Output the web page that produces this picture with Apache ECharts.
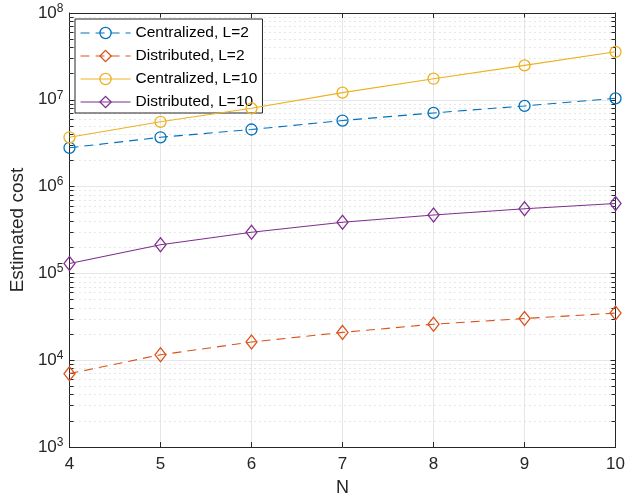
<!DOCTYPE html>
<html>
<head>
<meta charset="utf-8">
<script src="https://cdn.jsdelivr.net/npm/echarts@6/dist/echarts.min.js"></script>
<style>
    html, body { margin: 0; padding: 0; background: #fff; }
    #cost { width: 628px; height: 502px; }
</style>
</head>
<body>
<div id="cost"></div>
<script>
// N values on the x axis
let nValues = [4, 5, 6, 7, 8, 9, 10];

// estimated cost
let centralL2 = [2.8e6, 3.7e6, 4.55e6, 5.77e6, 7.06e6, 8.5e6, 1.04e7];
let distribL2 = [7.0e3, 1.155e4, 1.62e4, 2.09e4, 2.6e4, 3.02e4, 3.49e4];
let centralL10 = [3.7e6, 5.58e6, 7.98e6, 1.21e7, 1.75e7, 2.49e7, 3.57e7];
let distribL10 = [1.3e5, 2.14e5, 2.98e5, 3.88e5, 4.71e5, 5.56e5, 6.38e5];

let seriesNames = ['Centralized, L=2', 'Distributed, L=2', 'Centralized, L=10', 'Distributed, L=10'];

(function () {
    let chart = echarts.init(document.getElementById('cost'));

    const axisColor = '#262626';
    const font = '"Liberation Sans", Arial, sans-serif';

    function pairs(ys) {
        return nValues.map(function (n, i) {
            return [n, ys[i]];
        });
    }

    // minor log grid: 2..9 x 10^e
    let minorVals = [];
    for (let e = 3; e < 8; e++) {
        for (let k = 2; k <= 9; k++) {
            minorVals.push(k * Math.pow(10, e));
        }
    }
    let minorGrid = minorVals.map(function (v) {
        return { yAxis: v };
    });
    let minorTicks = [];
    minorVals.forEach(function (v) {
        minorTicks.push([{ coord: [4, v] }, { coord: [4.045, v] }]);
        minorTicks.push([{ coord: [9.955, v] }, { coord: [10, v] }]);
    });

    function lineSeries(name, data, color, marker, dashed) {
        return {
            name: name,
            type: 'line',
            data: pairs(data),
            color: color,
            symbol: marker,
            symbolSize: marker === 'diamond' ? [11, 14] : 11,
            z: 5,
            lineStyle: {
                color: color,
                width: 1.1,
                type: dashed ? [9, 6] : 'solid'
            },
            itemStyle: {
                color: 'transparent',
                borderColor: color,
                borderWidth: 1.3
            },
            animation: false
        };
    }

    let option = {
        backgroundColor: '#fff',
        textStyle: { fontFamily: font },
        grid: {
            left: 67,
            right: 8,
            top: 13,
            bottom: 50
        },
        legend: {
            data: seriesNames,
            orient: 'vertical',
            left: 75,
            top: 19,
            itemWidth: 50,
            itemHeight: 14,
            itemGap: 7,
            padding: [6, 5, 3, 5],
            backgroundColor: '#fff',
            borderColor: axisColor,
            borderWidth: 1,
            lineStyle: { width: 1.1 },
            itemStyle: { borderWidth: 1.3 },
            textStyle: {
                color: '#000',
                fontSize: 15.5,
                fontFamily: font
            }
        },
        xAxis: [{
            type: 'value',
            min: 4,
            max: 10,
            interval: 1,
            name: 'N',
            nameLocation: 'middle',
            nameGap: 32,
            nameTextStyle: { color: axisColor, fontSize: 18, fontFamily: font },
            axisLine: { lineStyle: { color: axisColor, width: 1 } },
            axisTick: { inside: true, length: 5, lineStyle: { color: axisColor } },
            axisLabel: { color: axisColor, fontSize: 17, margin: 9, fontFamily: font },
            splitLine: { show: true, lineStyle: { color: '#e6e6e6', width: 1 } }
        }, {
            type: 'value',
            position: 'top',
            min: 4,
            max: 10,
            interval: 1,
            axisLine: { show: true, lineStyle: { color: axisColor, width: 1 } },
            axisTick: { show: true, inside: true, length: 5, lineStyle: { color: axisColor } },
            axisLabel: { show: false },
            splitLine: { show: false }
        }],
        yAxis: [{
            type: 'log',
            logBase: 10,
            min: 1e3,
            max: 1e8,
            splitNumber: 5,
            name: 'Estimated cost',
            nameLocation: 'middle',
            nameGap: 42,
            nameTextStyle: { color: axisColor, fontSize: 19, fontFamily: font },
            axisLine: { show: true, lineStyle: { color: axisColor, width: 1 } },
            axisTick: { inside: true, length: 5, lineStyle: { color: axisColor } },
            axisLabel: {
                color: axisColor,
                margin: 6,
                fontFamily: font,
                formatter: function (v) {
                    return '{b|10}{sup|' + Math.round(Math.log10(v)) + '}';
                },
                rich: {
                    b: { fontSize: 17, color: axisColor, fontFamily: font },
                    sup: { fontSize: 12, color: axisColor, fontFamily: font, padding: [0, 0, 9, 0] }
                }
            },
            splitLine: { show: true, lineStyle: { color: '#e6e6e6', width: 1 } }
        }, {
            type: 'log',
            logBase: 10,
            min: 1e3,
            max: 1e8,
            splitNumber: 5,
            position: 'right',
            axisLine: { show: true, lineStyle: { color: axisColor, width: 1 } },
            axisTick: { show: true, inside: true, length: 5, lineStyle: { color: axisColor } },
            axisLabel: { show: false },
            splitLine: { show: false }
        }],
        series: [
            {
                name: 'minor',
                type: 'line',
                data: [],
                z: 1,
                silent: true,
                animation: false,
                markLine: {
                    silent: true,
                    symbol: 'none',
                    animation: false,
                    label: { show: false },
                    z: 1,
                    lineStyle: { color: '#cfcfcf', type: [1, 4], width: 1 },
                    data: minorGrid
                }
            },
            {
                name: 'minorTicks',
                type: 'line',
                data: [],
                z: 2,
                silent: true,
                animation: false,
                markLine: {
                    silent: true,
                    symbol: 'none',
                    animation: false,
                    label: { show: false },
                    z: 2,
                    lineStyle: { color: axisColor, type: 'solid', width: 1 },
                    data: minorTicks
                }
            },
            lineSeries(seriesNames[0], centralL2, '#0072BD', 'circle', true),
            lineSeries(seriesNames[1], distribL2, '#D95319', 'diamond', true),
            lineSeries(seriesNames[2], centralL10, '#EDB120', 'circle', false),
            lineSeries(seriesNames[3], distribL10, '#7E2F8E', 'diamond', false)
        ]
    };

    chart.setOption(option);
})();
</script>
</body>
</html>
